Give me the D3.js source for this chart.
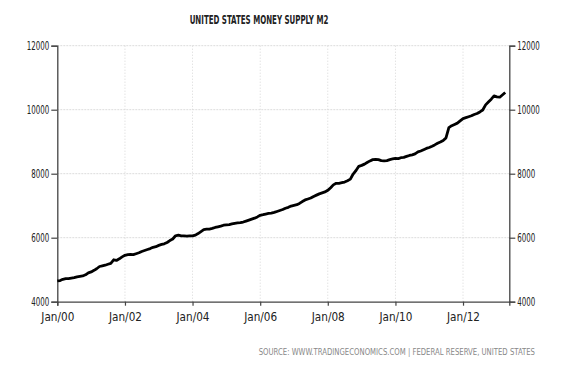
<!DOCTYPE html>
<html><head><meta charset="utf-8">
<script src="https://cdn.jsdelivr.net/npm/d3@7"></script>
<style>
html,body{margin:0;padding:0;background:#fff;}
svg text{font-family:"DejaVu Sans Condensed","DejaVu Sans",sans-serif;font-stretch:condensed;}
</style></head>
<body><svg id="c" width="563" height="371"></svg>
<script>
const title = "UNITED STATES MONEY SUPPLY M2";
const source = "SOURCE: WWW.TRADINGECONOMICS.COM | FEDERAL RESERVE, UNITED STATES";
const startYear = 2000;
// monthly M2 (USD billions), Jan 2000 .. Apr 2013
const m2_2000 = [4648,4660,4700,4720,4718,4735,4750,4775,4790,4805,4840,4900];
const m2_2001 = [4930,4980,5030,5100,5120,5140,5170,5200,5310,5290,5340,5400];
const m2_2002 = [5450,5470,5475,5470,5500,5530,5570,5600,5630,5660,5700,5720];
const m2_2003 = [5760,5790,5810,5850,5910,5960,6060,6080,6060,6055,6050,6060];
const m2_2004 = [6055,6080,6130,6190,6250,6265,6270,6290,6320,6340,6360,6390];
const m2_2005 = [6400,6410,6430,6450,6460,6470,6490,6520,6550,6580,6610,6650];
const m2_2006 = [6700,6720,6740,6760,6770,6790,6820,6850,6880,6920,6950,6990];
const m2_2007 = [7010,7030,7070,7130,7180,7210,7240,7290,7330,7370,7400,7430];
const m2_2008 = [7480,7560,7650,7700,7700,7720,7740,7780,7830,7990,8100,8230];
const m2_2009 = [8260,8300,8350,8400,8440,8450,8440,8410,8400,8410,8440,8460];
const m2_2010 = [8480,8470,8500,8510,8540,8570,8590,8620,8680,8710,8750,8790];
const m2_2011 = [8820,8860,8900,8950,8990,9040,9120,9440,9500,9540,9580,9650];
const m2_2012 = [9720,9750,9780,9810,9850,9880,9930,9990,10150,10240,10330,10430];
const m2_2013 = [10400,10390,10460,10540];
const yTicks = [4000,6000,8000,10000,12000];
const xTickYears = [2000,2002,2004,2006,2008,2010,2012];

const series = [m2_2000,m2_2001,m2_2002,m2_2003,m2_2004,m2_2005,m2_2006,m2_2007,m2_2008,m2_2009,m2_2010,m2_2011,m2_2012,m2_2013];
const data = [];
series.forEach((arr,yi)=>arr.forEach((v,mi)=>data.push({d:new Date(startYear+yi,mi,1),v})));

const L=57.3, R=509.3, T=45.7, B=301.7;
const svg = d3.select("#c");
const x = d3.scaleTime().domain([new Date(2000,0,1), new Date(2013,4,15)]).range([L,R]);
const y = d3.scaleLinear().domain([4000,12000]).range([B,T]);

// gridlines
svg.append("g").selectAll("line").data(yTicks.filter(t=>t>4000)).join("line")
  .attr("x1",L).attr("x2",R).attr("y1",d=>y(d)).attr("y2",d=>y(d))
  .attr("stroke","#dcdcdc").attr("stroke-width",1).attr("stroke-dasharray","2,1");
svg.append("g").selectAll("line").data(xTickYears.slice(1)).join("line")
  .attr("x1",d=>x(new Date(d,0,1))).attr("x2",d=>x(new Date(d,0,1))).attr("y1",T).attr("y2",B)
  .attr("stroke","#d6d6d6").attr("stroke-width",1).attr("stroke-dasharray","1,2");

// axes
const axisColor="#444";
const styleAxis = g => {
  g.select(".domain").attr("stroke",axisColor).attr("stroke-width",1.3);
  g.selectAll(".tick line").attr("stroke",axisColor).attr("stroke-width",1.2);
  g.selectAll("text").attr("fill","#222").style("font-size","11.5px")
    .attr("textLength",function(){return this.textContent.length*4.5;}).attr("lengthAdjust","spacingAndGlyphs");
};
svg.append("g").attr("transform",`translate(${L},0)`)
  .call(d3.axisLeft(y).tickValues(yTicks).tickSizeOuter(0).tickSize(6).tickPadding(2).tickFormat(d3.format("d")))
  .call(styleAxis);
svg.append("g").attr("transform",`translate(${R},0)`)
  .call(d3.axisRight(y).tickValues(yTicks).tickSizeOuter(0).tickSize(6).tickPadding(2).tickFormat(d3.format("d")))
  .call(styleAxis);
svg.append("g").attr("transform",`translate(0,${B})`)
  .call(d3.axisBottom(x).tickValues(xTickYears.map(yr=>new Date(yr,0,1))).tickSizeOuter(0).tickSize(4).tickPadding(7)
    .tickFormat(d3.timeFormat("%b/%y")))
  .call(styleAxis)
  .call(g=>g.selectAll("text").attr("textLength",function(){return this.textContent.length*5.5;}));

// line
svg.append("path").datum(data)
  .attr("fill","none").attr("stroke","#000").attr("stroke-width",2.8).attr("stroke-linejoin","round")
  .attr("d",d3.line().x(d=>x(d.d)).y(d=>y(d.v)));

function fitText(sel, px, py, width){
  const n = sel.node().getComputedTextLength();
  sel.attr("transform",`translate(${px},${py}) scale(${width/n},1)`);
}
const tt = svg.append("text").attr("text-anchor","middle")
  .style("font-size","11.5px").style("font-weight","600").attr("fill","#222").text(title);
fitText(tt,259,24,139);
const st = svg.append("text").attr("text-anchor","end")
  .style("font-size","9.5px").attr("fill","#888").text(source);
fitText(st,535,355,277);
</script></body></html>
